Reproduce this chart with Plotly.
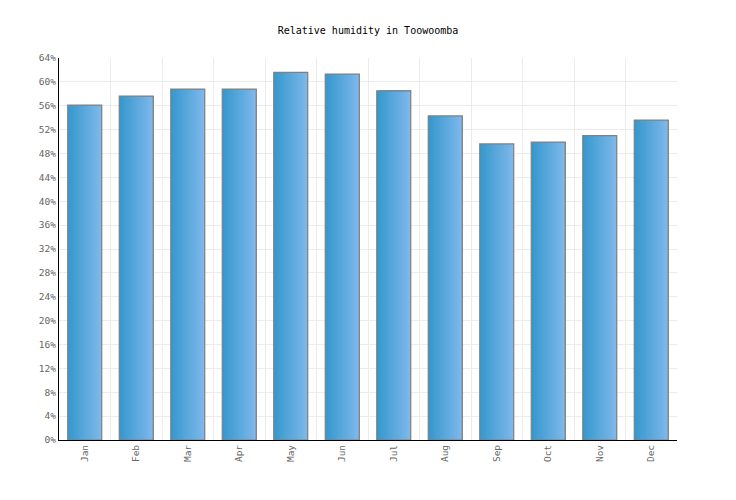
import plotly.graph_objects as go

months = ["Jan", "Feb", "Mar", "Apr", "May", "Jun", "Jul", "Aug", "Sep", "Oct", "Nov", "Dec"]
humidity = [56.1, 57.6, 58.8, 58.8, 61.6, 61.3, 58.5, 54.3, 49.6, 49.9, 51.0, 53.6]
y_ticks = list(range(0, 65, 4))
y_tick_labels = [f"{v}%" for v in y_ticks]

BAR_W = 0.66
N = 24
c0 = (0x36, 0x98, 0xCD)
c1 = (0x7E, 0xB8, 0xEB)

fig = go.Figure()
x_idx = list(range(len(months)))
for k in range(N):
    t = k / (N - 1)
    col = "rgb({},{},{})".format(*[round(a + (b - a) * t) for a, b in zip(c0, c1)])
    off = -BAR_W / 2 + k * BAR_W / N
    fig.add_trace(go.Bar(
        x=x_idx, y=humidity, width=BAR_W - k * BAR_W / N, offset=off,
        marker=dict(color=col, line=dict(width=0)),
        hoverinfo="skip", showlegend=False,
    ))
fig.add_trace(go.Bar(
    x=x_idx, y=humidity, width=BAR_W, offset=-BAR_W / 2,
    marker=dict(color="rgba(0,0,0,0)", line=dict(color="#808080", width=1.2)),
    showlegend=False, hovertemplate="%{y}%<extra></extra>",
))

W, H = 720, 484
mono = "DejaVu Sans Mono"
fig.update_layout(
    width=W, height=H,
    barmode="overlay",
    paper_bgcolor="white", plot_bgcolor="white",
    margin=dict(l=51, r=51, t=50, b=52),
    title=dict(text="Relative humidity in Toowoomba", x=0.5, xanchor="center",
               y=1 - 22 / H, yanchor="middle",
               font=dict(family=mono, size=10, color="#000")),
    xaxis=dict(
        range=[-0.5, 11.5], tickmode="array", tickvals=x_idx, ticktext=months,
        tickangle=-90, showgrid=False, zeroline=False,
        showline=True, linecolor="#000", linewidth=1.2,
        tickfont=dict(family=mono, size=9.5, color="#666"),
        minor=dict(tickmode="array", tickvals=[i + 0.5 for i in x_idx],
                   showgrid=True, gridcolor="#ececec", gridwidth=1, ticks=""),
    ),
    yaxis=dict(
        range=[0, 64], tickmode="array", tickvals=y_ticks, ticktext=y_tick_labels,
        showgrid=True, gridcolor="#ececec", gridwidth=1, zeroline=False,
        showline=True, linecolor="#000", linewidth=1.2,
        tickfont=dict(family=mono, size=9.5, color="#666"),
    ),
)
fig.write_html("out.html")
